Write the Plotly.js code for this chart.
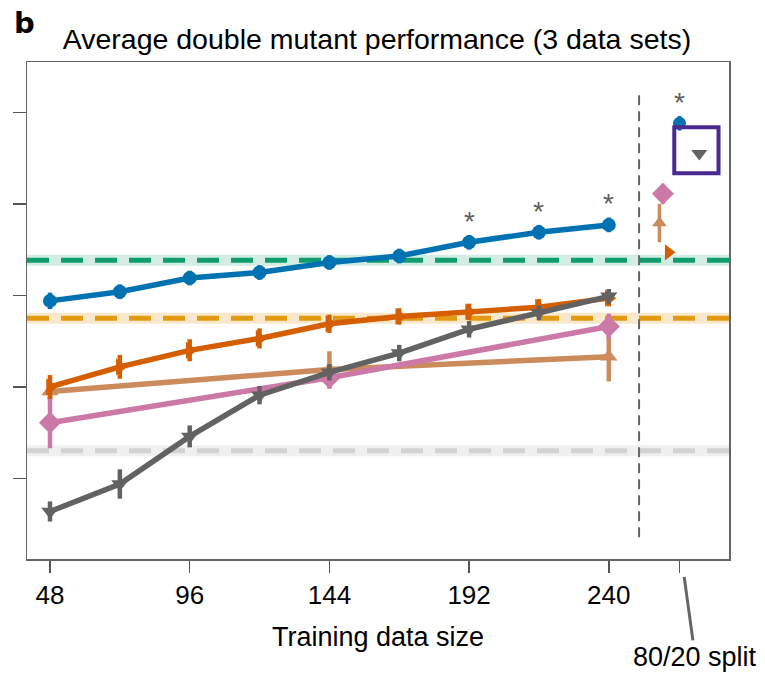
<!DOCTYPE html>
<html>
<head>
<meta charset="utf-8">
<script src="https://cdn.plot.ly/plotly-3.0.1.min.js"></script>
<style>
  html, body { margin: 0; padding: 0; background: #ffffff; }
  #chart { width: 765px; height: 679px; }
</style>
</head>
<body>
<div id="chart"></div>
<script>
// Training set sizes for the learning curves
const sizes = [48, 72, 96, 120, 144, 168, 192, 216, 240];
const sparseSizes = [48, 144, 240];

// Mean performance and spread per model
const blueVals = [0.394, 0.404, 0.419, 0.425, 0.436, 0.443, 0.458, 0.469, 0.477];
const blueErr  = [0.009, 0.008, 0.008, 0.008, 0.008, 0.008, 0.008, 0.008, 0.008];
const vermVals = [0.300, 0.322, 0.340, 0.353, 0.369, 0.377, 0.382, 0.387, 0.397];
const vermErr  = [0.013, 0.013, 0.012, 0.011, 0.010, 0.009, 0.009, 0.009, 0.009];
const grayVals = [0.164, 0.194, 0.246, 0.291, 0.316, 0.337, 0.363, 0.381, 0.399];
const grayErr  = [0.011, 0.016, 0.012, 0.010, 0.009, 0.009, 0.009, 0.008, 0.008];
const tanVals  = [0.295, 0.319, 0.333];
const tanErr   = [0.010, 0.020, 0.027];
const pinkVals = [0.261, 0.310, 0.366];
const pinkErr  = [0.028, 0.012, 0.014];

// Results for the 80/20 split, shown slightly dodged around its tick
const splitTick = 264.3;
const splitXs   = [257.4, 258.6, 260.5, 264.3, 271.1];   // tan, pink, verm, blue, gray
const splitVals = [0.479, 0.511, 0.447, 0.588, 0.555];
const splitErrs = [0.021, 0.011, 0.004, 0.008, 0.003];

// Reference baselines (dashed) with their confidence bands
const greenRef = 0.4383;
const orangeRef = 0.3750;
const grayRef = 0.2304;

// Points marked significant
const starX = [192, 216, 240, splitTick];
const starY = [0.458, 0.469, 0.477, 0.588];

// Axis ticks
const xTickVals = [48, 96, 144, 192, 240, splitTick];
const xTickText = ['48', '96', '144', '192', '240', ''];
const yTickVals = [0.2, 0.3, 0.4, 0.5, 0.6];

const xRange = [40.1, 281.3];
const yRange = [0.1121, 0.6549];

const BLUE = '#0072B2', VERM = '#D55E00', GRAY = '#626262',
      TAN = '#CB8B5C', PINK = '#CC79A7';
const FONT = 'Liberation Sans, Arial, Helvetica, sans-serif';

function refBand(y, color) {
  return { x: xRange, y: [y, y], mode: 'lines', hoverinfo: 'skip', showlegend: false,
           line: { color: color, width: 11 } };
}
function refLine(y, color) {
  return { x: xRange, y: [y, y], mode: 'lines', hoverinfo: 'skip', showlegend: false,
           line: { color: color, width: 5, dash: '22px,12px' } };
}
function curve(xs, ys, errs, color, symbol, size) {
  return { x: xs, y: ys, mode: 'lines+markers', showlegend: false,
           line: { color: color, width: 5.5 },
           marker: { color: color, symbol: symbol, size: size },
           error_y: { type: 'data', array: errs, visible: true, color: color, thickness: 4.5, width: 0 } };
}
function splitPoint(i, color, symbol, size) {
  return { x: [splitXs[i]], y: [splitVals[i]], mode: 'markers', showlegend: false,
           marker: { color: color, symbol: symbol, size: size },
           error_y: { type: 'data', array: [splitErrs[i]], visible: true, color: color, thickness: 3.5, width: 0 } };
}

const traces = [
  refBand(greenRef, '#d3ede4'), refBand(orangeRef, '#f9e8cc'), refBand(grayRef, '#f0f0f0'),
  refLine(greenRef, '#109C6E'), refLine(orangeRef, '#E29A12'), refLine(grayRef, '#d2d2d2'),
  curve(sparseSizes, tanVals, tanErr, TAN, 'triangle-up', 15),
  curve(sparseSizes, pinkVals, pinkErr, PINK, 'diamond', 17),
  curve(sizes, vermVals, vermErr, VERM, 'triangle-right', 15),
  curve(sizes, grayVals, grayErr, GRAY, 'triangle-down', 15),
  curve(sizes, blueVals, blueErr, BLUE, 'circle', 14),
  splitPoint(0, TAN, 'triangle-up', 13),
  splitPoint(1, PINK, 'diamond', 17),
  splitPoint(2, VERM, 'triangle-right', 14),
  splitPoint(3, BLUE, 'circle', 13),
  splitPoint(4, GRAY, 'triangle-down', 14)
];

const annotations = starX.map((x, i) => ({
  x: x, y: starY[i], xref: 'x', yref: 'y', text: '*', showarrow: false,
  yshift: 21, font: { family: FONT, size: 28, color: '#5e5e5e' }
}));
annotations.push({
  xref: 'paper', yref: 'paper', x: -0.021, y: 1.079, xanchor: 'left', yanchor: 'middle',
  text: '<b>b</b>', showarrow: false, font: { family: 'DejaVu Sans, Liberation Sans, sans-serif', size: 29, color: '#000' }
});
annotations.push({
  xref: 'x', yref: 'paper', x: 265.9, y: -0.036, text: '80/20 split',
  showarrow: true, arrowhead: 0, arrowwidth: 3, arrowcolor: '#666666',
  ax: 11, ay: 80, font: { family: FONT, size: 27, color: '#000' }
});

const layout = {
  width: 765, height: 679,
  margin: { l: 27, r: 36, t: 62, b: 120 },
  paper_bgcolor: '#ffffff', plot_bgcolor: '#ffffff',
  font: { family: FONT, color: '#000' },
  title: {
    text: 'Average double mutant performance (3 data sets)',
    xref: 'container', yref: 'container', x: 0.082, y: 0.943,
    xanchor: 'left', yanchor: 'middle',
    font: { family: FONT, size: 28.5, color: '#000' }
  },
  xaxis: {
    range: xRange, tickvals: xTickVals, ticktext: xTickText,
    ticks: 'outside', ticklen: 12, tickwidth: 1.5, tickcolor: '#555',
    showline: true, mirror: true, linecolor: '#666', linewidth: 1.5,
    showgrid: false, zeroline: false,
    tickfont: { family: FONT, size: 26, color: '#000' },
    title: { text: 'Training data size', standoff: 18, font: { family: FONT, size: 27, color: '#000' } }
  },
  yaxis: {
    range: yRange, tickvals: yTickVals, showticklabels: false,
    ticks: 'outside', ticklen: 13, tickwidth: 1.5, tickcolor: '#555',
    showline: true, mirror: true, linecolor: '#666', linewidth: 1.5,
    showgrid: false, zeroline: false
  },
  shapes: [
    { type: 'line', xref: 'x', yref: 'paper', x0: 250.4, x1: 250.4, y0: 0.044, y1: 0.944,
      line: { color: '#666', width: 2, dash: '10px,6px' } },
    { type: 'rect', xref: 'x', yref: 'y', x0: 262.5, x1: 277.7, y0: 0.5335, y1: 0.5837,
      line: { color: '#4A2A90', width: 4 }, fillcolor: 'rgba(0,0,0,0)' }
  ],
  annotations: annotations,
  showlegend: false
};

Plotly.newPlot('chart', traces, layout, { staticPlot: true, displayModeBar: false });
</script>
</body>
</html>
